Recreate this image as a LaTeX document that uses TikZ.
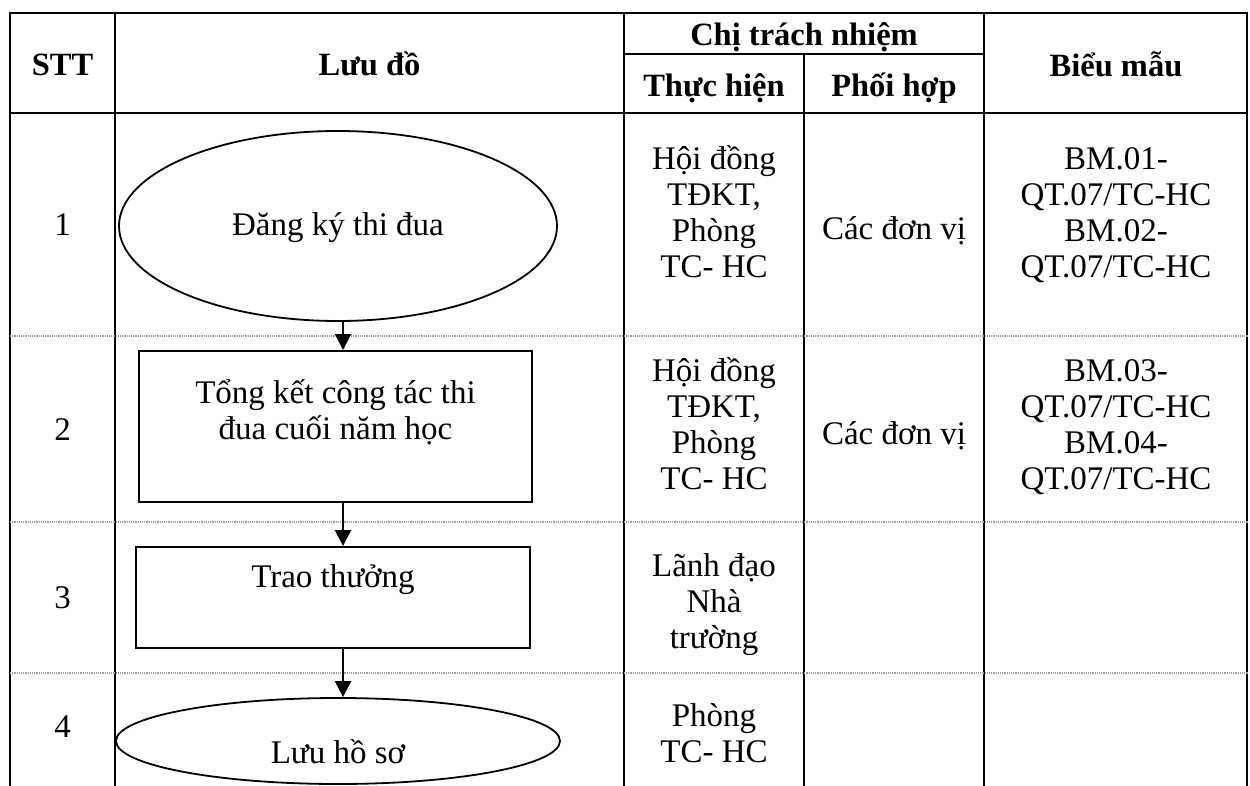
\documentclass[tikz,border=0pt]{standalone}
\usepackage{fontspec}
\setmainfont{Liberation Serif}
\usetikzlibrary{arrows.meta,shapes.geometric}
\newcommand\mcell[1]{\vtop{\baselineskip=36pt\lineskiplimit=-100pt\lineskip=0pt\halign{\hfil##\hfil\cr#1\crcr}}}
\tikzset{
  grid/.style={line width=2.2pt, line cap=rect},
  rowsep/.style={line width=1.1pt, gray!75, dash pattern=on 1.1pt off 1.1pt},
  txt/.style={anchor=base, inner sep=0pt, font=\fontsize{33}{36}\selectfont},
  hd/.style={anchor=base, inner sep=0pt, font=\fontsize{32.5}{36}\selectfont\bfseries},
  term/.style={ellipse, draw, line width=1.8pt, inner sep=0pt, font=\fontsize{33}{36}\selectfont},
  proc/.style={rectangle, draw, line width=2pt, inner sep=0pt, font=\fontsize{33}{36}\selectfont},
  arr/.style={line width=2pt, -{Triangle[width=16pt,length=16pt]}}
}
\begin{document}
\begin{tikzpicture}[x=1pt,y=-1pt]
\useasboundingbox (0,0) rectangle (1250,786);
\clip (0,0) rectangle (1250,786);
\fill[white] (0,0) rectangle (1250,786);
% table frame
\draw[grid] (10,13) -- (1247,13);
\draw[grid] (10,113) -- (1247,113);
\draw[grid] (624,54) -- (984,54);
\foreach \x in {10,115,624,984,1247} \draw[grid] (\x,13) -- (\x,790);
\draw[grid] (804,54) -- (804,790);
% row separators
\foreach \y in {336,522,673} \draw[rowsep] (10,\y) -- (1248,\y);
% header
\node[hd] (hstt) at (62.5,76) {STT};
\node[hd] (hlud) at (369.5,76) {Lưu đồ};
\node[hd] (hctn) at (804,46) {Chị trách nhiệm};
\node[hd] (hth) at (714,97) {Thực hiện};
\node[hd] (hph) at (894,97) {Phối hợp};
\node[hd] (hbm) at (1116,77) {Biểu mẫu};
% row numbers
\node[txt] (n1) at (62.5,236) {1};
\node[txt] (n2) at (62.5,440) {2};
\node[txt] (n3) at (62.5,608) {3};
\node[txt] (n4) at (62.5,737) {4};
% flow chart
\node[term, minimum width=438pt, minimum height=190pt, text height=27pt, text depth=7pt] (e1) at (338,226) {Đăng ký thi đua};
\node[proc, minimum width=393pt, minimum height=151pt, text height=20pt, text depth=67pt] (b2) at (335.5,426.5) {\mcell{Tổng kết công tác thi\cr đua cuối năm học}};
\node[proc, minimum width=394pt, minimum height=101pt, text height=20pt, text depth=41pt] (b3) at (333,597.5) {Trao thưởng};
\node[term, minimum width=444pt, minimum height=86pt, text height=51pt, text depth=7pt] (e4) at (338,741) {Lưu hồ sơ};
\coordinate (ax) at (343,0);
\draw[arr] (ax |- e1.south) -- (ax |- b2.north);
\draw[arr] (ax |- b2.south) -- (ax |- b3.north);
\draw[arr] (ax |- b3.south) -- (ax |- e4.north);
% responsibility and forms
\node[txt] (t1) at (714,170) {\mcell{Hội đồng\cr TĐKT,\cr Phòng\cr TC- HC}};
\node[txt] (p1) at (894,240) {Các đơn vị};
\node[txt] (m1) at (1116,170) {\mcell{BM.01-\cr QT.07/TC-HC\cr BM.02-\cr QT.07/TC-HC}};
\node[txt] (t2) at (714,381) {\mcell{Hội đồng\cr TĐKT,\cr Phòng\cr TC- HC}};
\node[txt] (p2) at (894,444) {Các đơn vị};
\node[txt] (m2) at (1116,381) {\mcell{BM.03-\cr QT.07/TC-HC\cr BM.04-\cr QT.07/TC-HC}};
\node[txt] (t3) at (714,576) {\mcell{Lãnh đạo\cr Nhà\cr trường}};
\node[txt] (t4) at (714,726) {\mcell{Phòng\cr TC- HC}};
\end{tikzpicture}
\end{document}
